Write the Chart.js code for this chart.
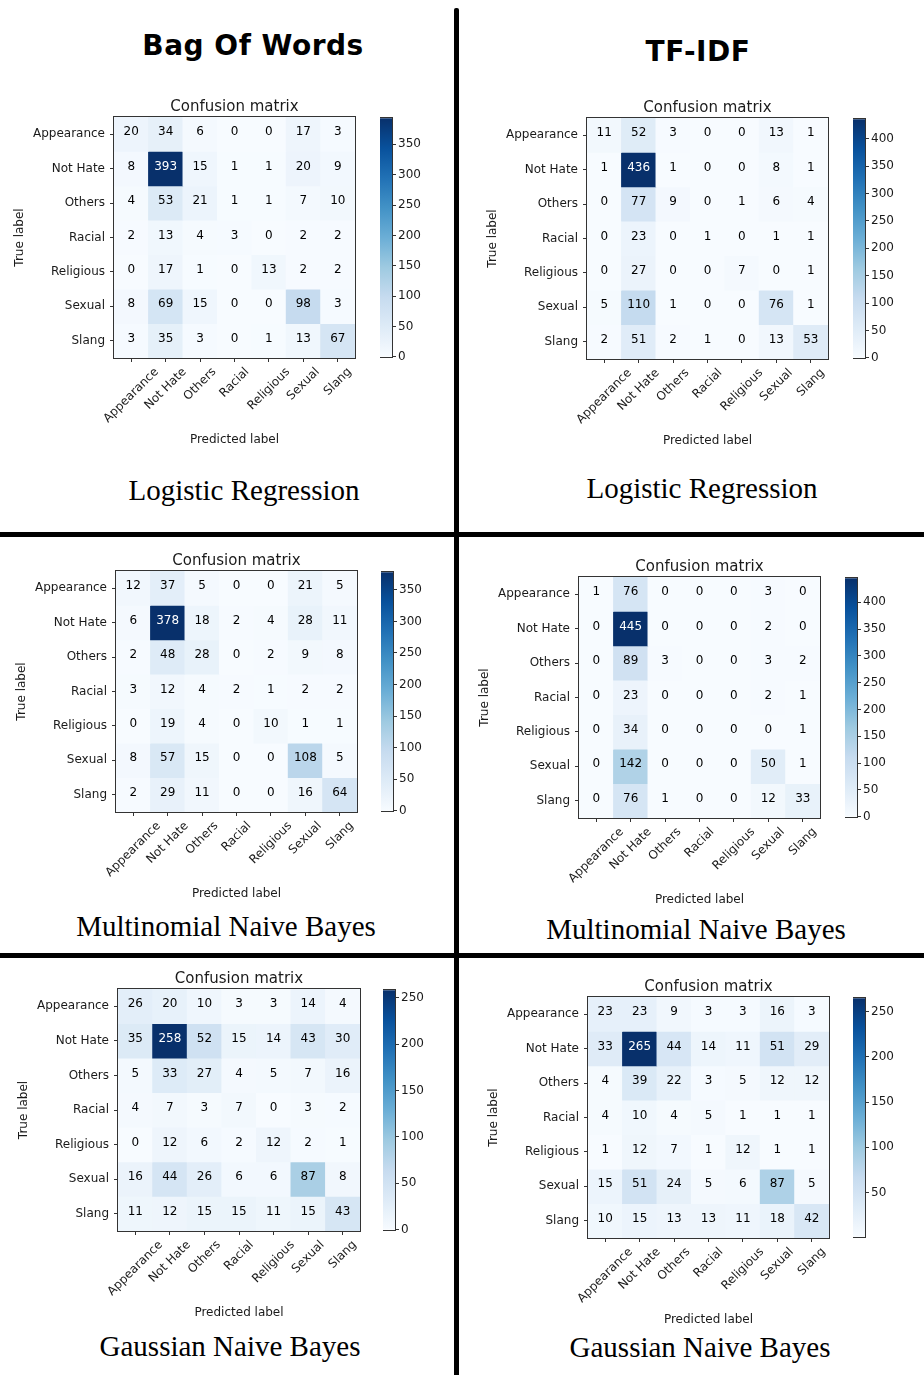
<!DOCTYPE html>
<html>
<head>
<meta charset="utf-8">
<script src="https://cdn.jsdelivr.net/npm/chart.js@4.4.1/dist/chart.umd.min.js"></script>
<style>
  html, body { margin: 0; padding: 0; background: #fff; }
  #page { position: relative; width: 924px; height: 1375px; overflow: hidden; background: #fff; }
  #page canvas { position: absolute; }
  .rule { position: absolute; background: #000; }
  .head { position: absolute; transform: translate(-50%, -50%); font-family: 'DejaVu Sans', sans-serif; font-weight: bold; font-size: 28px; letter-spacing: 0.5px; color: #000; white-space: nowrap; line-height: 1; }
  .model { position: absolute; transform: translate(-50%, -50%); font-family: 'Liberation Serif', serif; font-size: 29px; color: #000; white-space: nowrap; line-height: 1; }
</style>
</head>
<body>
<div id="page">
  <div class="rule" style="left:454px; top:8px; width:5px; height:1367px; border-radius:2px 2px 0 0;"></div>
  <div class="rule" style="left:0; top:532px; width:924px; height:5px;"></div>
  <div class="rule" style="left:0; top:953px; width:924px; height:5px;"></div>

  <div class="head" style="left:253px; top:46px;">Bag Of Words</div>
  <div class="head" style="left:698px; top:52px;">TF-IDF</div>

  <div class="model" style="left:244px; top:490px;">Logistic Regression</div>
  <div class="model" style="left:702px; top:488px;">Logistic Regression</div>
  <div class="model" style="left:226px; top:926px;">Multinomial Naive Bayes</div>
  <div class="model" style="left:696px; top:929px;">Multinomial Naive Bayes</div>
  <div class="model" style="left:230px; top:1346px;">Gaussian Naive Bayes</div>
  <div class="model" style="left:700px; top:1347px;">Gaussian Naive Bayes</div>
</div>

<script>
// Class names shared by both axes (true label rows, predicted label columns)
const classes = ['Appearance', 'Not Hate', 'Others', 'Racial', 'Religious', 'Sexual', 'Slang'];

// Confusion matrices: rows = true label, columns = predicted label
const bowLogReg = [
  [20, 34, 6, 0, 0, 17, 3],
  [8, 393, 15, 1, 1, 20, 9],
  [4, 53, 21, 1, 1, 7, 10],
  [2, 13, 4, 3, 0, 2, 2],
  [0, 17, 1, 0, 13, 2, 2],
  [8, 69, 15, 0, 0, 98, 3],
  [3, 35, 3, 0, 1, 13, 67]
];
const tfidfLogReg = [
  [11, 52, 3, 0, 0, 13, 1],
  [1, 436, 1, 0, 0, 8, 1],
  [0, 77, 9, 0, 1, 6, 4],
  [0, 23, 0, 1, 0, 1, 1],
  [0, 27, 0, 0, 7, 0, 1],
  [5, 110, 1, 0, 0, 76, 1],
  [2, 51, 2, 1, 0, 13, 53]
];
const bowMultiNB = [
  [12, 37, 5, 0, 0, 21, 5],
  [6, 378, 18, 2, 4, 28, 11],
  [2, 48, 28, 0, 2, 9, 8],
  [3, 12, 4, 2, 1, 2, 2],
  [0, 19, 4, 0, 10, 1, 1],
  [8, 57, 15, 0, 0, 108, 5],
  [2, 29, 11, 0, 0, 16, 64]
];
const tfidfMultiNB = [
  [1, 76, 0, 0, 0, 3, 0],
  [0, 445, 0, 0, 0, 2, 0],
  [0, 89, 3, 0, 0, 3, 2],
  [0, 23, 0, 0, 0, 2, 1],
  [0, 34, 0, 0, 0, 0, 1],
  [0, 142, 0, 0, 0, 50, 1],
  [0, 76, 1, 0, 0, 12, 33]
];
const bowGaussNB = [
  [26, 20, 10, 3, 3, 14, 4],
  [35, 258, 52, 15, 14, 43, 30],
  [5, 33, 27, 4, 5, 7, 16],
  [4, 7, 3, 7, 0, 3, 2],
  [0, 12, 6, 2, 12, 2, 1],
  [16, 44, 26, 6, 6, 87, 8],
  [11, 12, 15, 15, 11, 15, 43]
];
const tfidfGaussNB = [
  [23, 23, 9, 3, 3, 16, 3],
  [33, 265, 44, 14, 11, 51, 29],
  [4, 39, 22, 3, 5, 12, 12],
  [4, 10, 4, 5, 1, 1, 1],
  [1, 12, 7, 1, 12, 1, 1],
  [15, 51, 24, 5, 6, 87, 5],
  [10, 15, 13, 13, 11, 18, 42]
];

// Colorbar tick labels for each matrix
const cbTicksBowLogReg = [0, 50, 100, 150, 200, 250, 300, 350];
const cbTicksTfidfLogReg = [0, 50, 100, 150, 200, 250, 300, 350, 400];
const cbTicksBowMultiNB = [0, 50, 100, 150, 200, 250, 300, 350];
const cbTicksTfidfMultiNB = [0, 50, 100, 150, 200, 250, 300, 350, 400];
const cbTicksBowGaussNB = [0, 50, 100, 150, 200, 250];
const cbTicksTfidfGaussNB = [50, 100, 150, 200, 250];

// Where each matrix plot area and its colorbar sit on the page
const panels = [
  { matrix: bowLogReg,    cbTicks: cbTicksBowLogReg,    area: { left: 114, top: 117, size: 241 }, cbLeft: 380 },
  { matrix: tfidfLogReg,  cbTicks: cbTicksTfidfLogReg,  area: { left: 587, top: 118, size: 241 }, cbLeft: 853 },
  { matrix: bowMultiNB,   cbTicks: cbTicksBowMultiNB,   area: { left: 116, top: 571, size: 241 }, cbLeft: 381 },
  { matrix: tfidfMultiNB, cbTicks: cbTicksTfidfMultiNB, area: { left: 579, top: 577, size: 241 }, cbLeft: 845 },
  { matrix: bowGaussNB,   cbTicks: cbTicksBowGaussNB,   area: { left: 118, top: 989, size: 242 }, cbLeft: 383 },
  { matrix: tfidfGaussNB, cbTicks: cbTicksTfidfGaussNB, area: { left: 588, top: 997, size: 241 }, cbLeft: 853 }
];

// Sequential "Blues" colormap
const BLUES = ['#f7fbff', '#deebf7', '#c6dbef', '#9ecae1', '#6baed6', '#4292c6', '#2171b5', '#08519c', '#08306b'];
const BLUES_RGB = BLUES.map(h => [1, 3, 5].map(i => parseInt(h.slice(i, i + 2), 16)));
function blues(t) {
  t = Math.max(0, Math.min(1, t));
  const x = t * (BLUES_RGB.length - 1);
  const i = Math.min(Math.floor(x), BLUES_RGB.length - 2);
  const f = x - i;
  const a = BLUES_RGB[i], b = BLUES_RGB[i + 1];
  const c = a.map((v, k) => Math.round(v + (b[k] - v) * f));
  return `rgb(${c[0]},${c[1]},${c[2]})`;
}

Chart.defaults.font.family = "'DejaVu Sans', sans-serif";
Chart.defaults.font.size = 12;
Chart.defaults.color = '#1a1a1a';

const TEXT = '#1a1a1a';
const SPINE = '#333';
const FONT = "12px 'DejaVu Sans'";
const Y_AXIS_W = 114;   // room for row labels + "True label"
const X_AXIS_H = 92;    // room for rotated column labels + "Predicted label"
const TITLE_H = 25;     // "Confusion matrix" block
const CB_AXIS_W = 45;
const CB_PAD = 8;
const TICK_LEN = 4;

// Thin outline around the plot area (axes spines)
const frame = {
  id: 'frame',
  afterDatasetsDraw(chart) {
    const { ctx, chartArea: a } = chart;
    ctx.save();
    ctx.strokeStyle = SPINE;
    ctx.lineWidth = 1;
    ctx.strokeRect(Math.round(a.left) - 0.5, Math.round(a.top) - 0.5, Math.round(a.width) + 1, Math.round(a.height) + 1);
    ctx.restore();
  }
};

// Column names rotated 45 degrees and centred under their tick marks
const rotatedColumnLabels = {
  id: 'rotatedColumnLabels',
  afterDraw(chart) {
    const sx = chart.scales.x;
    const { ctx } = chart;
    const lineH = 14;
    ctx.save();
    ctx.font = FONT;
    ctx.fillStyle = TEXT;
    ctx.textAlign = 'center';
    ctx.textBaseline = 'middle';
    chart.data.labels.forEach((name, i) => {
      const x = sx.getPixelForTick(i);
      const w = ctx.measureText(name).width;
      const half = (w + lineH) * Math.SQRT1_2 / 2;
      const y = sx.top + TICK_LEN + 3 + half;
      ctx.save();
      ctx.translate(x, y);
      ctx.rotate(-Math.PI / 4);
      ctx.fillText(name, 0, 0);
      ctx.restore();
    });
    ctx.restore();
  }
};

// Count printed at the centre of each cell
function cellText(matrix, thresh) {
  return {
    id: 'cellText',
    afterDatasetsDraw(chart) {
      const { ctx } = chart;
      ctx.save();
      ctx.font = FONT;
      ctx.textAlign = 'center';
      ctx.textBaseline = 'middle';
      chart.data.datasets.forEach((ds, r) => {
        chart.getDatasetMeta(r).data.forEach((bar, c) => {
          const v = matrix[r][c];
          ctx.fillStyle = v > thresh ? '#ffffff' : '#000000';
          ctx.fillText(String(v), bar.x, (bar.y + bar.base) / 2 - 2);
        });
      });
      ctx.restore();
    }
  };
}

function addCanvas(left, top, width, height) {
  const cv = document.createElement('canvas');
  cv.width = width;
  cv.height = height;
  cv.style.left = left + 'px';
  cv.style.top = top + 'px';
  cv.style.width = width + 'px';
  cv.style.height = height + 'px';
  document.getElementById('page').appendChild(cv);
  return cv;
}

function drawPanel(p) {
  const flat = p.matrix.flat();
  const vmin = Math.min(...flat);
  const vmax = Math.max(...flat);
  const size = p.area.size;

  // Heatmap: one dataset per true-label row, one floating bar per predicted column
  const datasets = p.matrix.map((row, r) => ({
    label: classes[r],
    data: row.map(() => [r - 0.5, r + 0.5]),
    backgroundColor: row.map(v => blues((v - vmin) / (vmax - vmin))),
    borderWidth: 0,
    barPercentage: 1,
    categoryPercentage: 1,
    grouped: false
  }));

  const cv = addCanvas(p.area.left - Y_AXIS_W, p.area.top - TITLE_H, Y_AXIS_W + size + 3, TITLE_H + size + X_AXIS_H);
  new Chart(cv, {
    type: 'bar',
    data: { labels: classes, datasets },
    options: {
      responsive: false,
      animation: false,
      devicePixelRatio: 1,
      layout: { padding: { left: 0, top: 0, right: 3, bottom: 0 } },
      scales: {
        x: {
          type: 'category',
          offset: true,
          afterFit: ax => { ax.height = X_AXIS_H; },
          ticks: { display: false, autoSkip: false },
          grid: { offset: false, drawOnChartArea: false, tickLength: TICK_LEN, color: SPINE },
          border: { display: false },
          title: { display: true, text: 'Predicted label', color: TEXT, padding: { top: 0, bottom: 3 } }
        },
        y: {
          type: 'linear',
          min: -0.5,
          max: 6.5,
          reverse: true,
          afterBuildTicks: ax => { ax.ticks = classes.map((_, i) => ({ value: i })); },
          afterFit: ax => { ax.width = Y_AXIS_W; },
          ticks: { autoSkip: false, callback: v => classes[v], color: TEXT, padding: 5 },
          grid: { drawOnChartArea: false, tickLength: TICK_LEN, color: SPINE },
          border: { display: false },
          title: { display: true, text: 'True label', color: TEXT, padding: { top: 13, bottom: 0 } }
        }
      },
      plugins: {
        legend: { display: false },
        tooltip: { enabled: false },
        title: {
          display: true,
          text: 'Confusion matrix',
          fullSize: false,
          color: TEXT,
          font: { size: 15, weight: 'normal' },
          padding: { top: 6, bottom: 1 }
        }
      }
    },
    plugins: [cellText(p.matrix, vmax / 2), frame, rotatedColumnLabels]
  });

  // Colorbar: a single floating bar spanning the value range, shaded with the colormap
  const cb = addCanvas(p.cbLeft, p.area.top - CB_PAD, 12 + CB_AXIS_W, size + 2 * CB_PAD);
  new Chart(cb, {
    type: 'bar',
    data: {
      labels: [''],
      datasets: [{
        data: [[vmin, vmax]],
        backgroundColor: c => {
          const a = c.chart.chartArea;
          if (!a) return BLUES[0];
          const g = c.chart.ctx.createLinearGradient(0, a.bottom, 0, a.top);
          BLUES.forEach((col, i) => g.addColorStop(i / (BLUES.length - 1), col));
          return g;
        },
        borderWidth: 0,
        barPercentage: 1,
        categoryPercentage: 1
      }]
    },
    options: {
      responsive: false,
      animation: false,
      devicePixelRatio: 1,
      layout: { padding: { left: 0, top: CB_PAD, right: 0, bottom: CB_PAD } },
      scales: {
        x: { display: false },
        y: {
          position: 'right',
          min: vmin,
          max: vmax,
          afterBuildTicks: ax => { ax.ticks = p.cbTicks.map(v => ({ value: v })); },
          afterFit: ax => { ax.width = CB_AXIS_W; },
          ticks: { color: TEXT, padding: 2 },
          grid: { drawOnChartArea: false, tickLength: TICK_LEN, color: SPINE },
          border: { display: false }
        }
      },
      plugins: { legend: { display: false }, tooltip: { enabled: false } }
    },
    plugins: [frame]
  });
}

panels.forEach(drawPanel);
</script>
</body>
</html>
